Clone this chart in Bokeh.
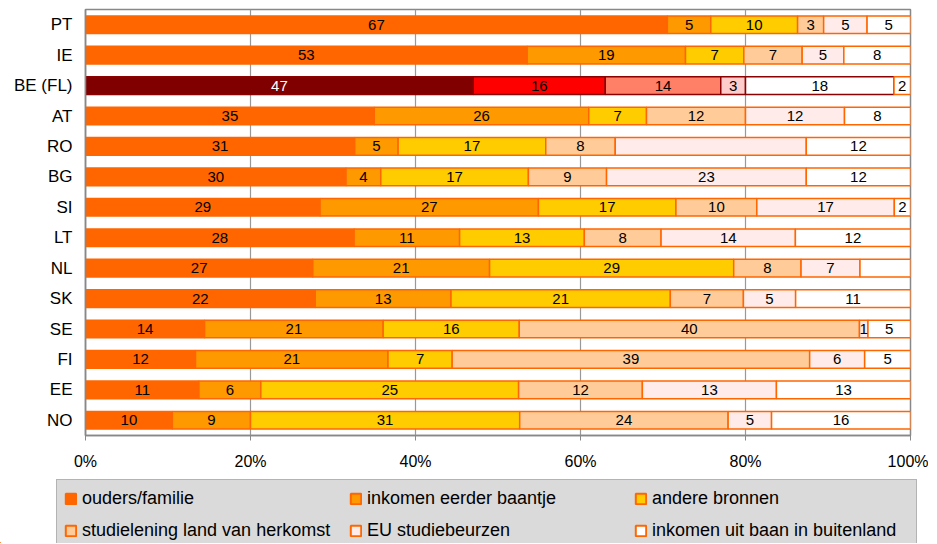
from bokeh.plotting import figure
from bokeh.models import (ColumnDataSource, FixedTicker, PrintfTickFormatter, Legend,
                          LegendItem, Range1d, FactorRange)
from bokeh.layouts import column
from bokeh.embed import file_html
from bokeh.resources import INLINE
from bokeh.core.properties import value

# ---------------- data ----------------
countries = ["PT", "IE", "BE (FL)", "AT", "RO", "BG", "SI", "LT", "NL", "SK", "SE", "FI", "EE", "NO"]
ouders  = [67, 53, 47, 35, 31, 30, 29, 28, 27, 22, 14, 12, 11, 10]
baantje = [5, 19, 16, 26, 5, 4, 27, 11, 21, 13, 21, 21, 6, 9]
andere  = [10, 7, 14, 7, 17, 17, 17, 13, 29, 21, 16, 7, 25, 31]
lening  = [3, 7, 3, 12, 8, 9, 10, 8, 8, 7, 40, 39, 12, 24]
eu      = [5, 5, 18, 12, 22, 23, 17, 14, 7, 5, 1, 6, 13, 5]
buiten  = [5, 8, 2, 8, 12, 12, 2, 12, 6, 11, 5, 5, 13, 16]
series_names = ["ouders/familie", "inkomen eerder baantje", "andere bronnen",
                "studielening land van herkomst", "EU studiebeurzen",
                "inkomen uit baan in buitenland"]
series = [ouders, baantje, andere, lening, eu, buiten]
# segments drawn without a value label in the original
unlabeled = [("RO", 4), ("NL", 5)]
x_ticks = [0, 20, 40, 60, 80, 100]

# ---------------- styles ----------------
colors = ["#ff6600", "#ff9900", "#ffcc00", "#ffcc99", "#ffecea", "#ffffff"]
be_colors = ["#800000", "#ff0000", "#ff8066", "#ffcccc", "#ffffff", "#ffffff"]
be_lines = ["#8b0000", "#8b0000", "#8b0000", "#8b0000", "#8b0000", "#ff6600"]
FONT = "Liberation Sans"

totals = [sum(s[i] for s in series) for i in range(len(countries))]

p = figure(width=928, height=475, x_range=Range1d(0, 100),
           y_range=FactorRange(factors=countries[::-1]),
           output_backend="svg", toolbar_location=None,
           min_border_left=85, min_border_right=18, min_border_top=9, min_border_bottom=40)

lab_x, lab_y, lab_t, lab_c = [], [], [], []
for k, s in enumerate(series):
    left, right, fills, lines = [], [], [], []
    for i, c in enumerate(countries):
        cum = sum(series[j][i] for j in range(k))
        l = cum / totals[i] * 100
        r = (cum + s[i]) / totals[i] * 100
        left.append(l)
        right.append(r)
        if c == "BE (FL)":
            fills.append(be_colors[k])
            lines.append(be_lines[k])
        else:
            fills.append(colors[k])
            lines.append("#ff6600")
        if (c, k) not in unlabeled:
            lab_x.append((l + r) / 2)
            lab_y.append(c)
            lab_t.append(str(s[i]))
            lab_c.append("#ffffff" if (c == "BE (FL)" and k == 0) else "#000000")
    src = ColumnDataSource(dict(y=countries, left=left, right=right, fill=fills, line=lines))
    p.hbar(y="y", left="left", right="right", height=0.58, fill_color="fill",
           line_color="line", line_width=1.5, source=src)

lsrc = ColumnDataSource(dict(x=lab_x, y=lab_y, t=lab_t, c=lab_c))
p.text(x="x", y="y", text="t", text_color="c", source=lsrc, text_align="center",
       text_baseline="middle", text_font=value(FONT), text_font_size="15px")

p.outline_line_color = "#888888"
p.outline_line_width = 1.5
p.ygrid.grid_line_color = None
p.xgrid.ticker = FixedTicker(ticks=x_ticks)
p.xgrid.grid_line_color = "#999999"
p.xgrid.grid_line_width = 1.2

p.xaxis.ticker = FixedTicker(ticks=x_ticks)
p.xaxis.formatter = PrintfTickFormatter(format="%d%%")
p.xaxis.axis_line_color = "#888888"
p.xaxis.axis_line_width = 1.5
p.xaxis.major_tick_line_color = "#888888"
p.xaxis.major_tick_out = 5
p.xaxis.major_tick_in = 0
p.xaxis.minor_tick_line_color = None
p.xaxis.major_label_standoff = 12
p.xaxis.major_label_text_font = FONT
p.xaxis.major_label_text_font_size = "16px"
p.xaxis.major_label_text_color = "#000000"

p.yaxis.axis_line_color = "#888888"
p.yaxis.axis_line_width = 1.5
p.yaxis.major_tick_line_color = None
p.yaxis.minor_tick_line_color = None
p.yaxis.major_tick_out = 0
p.yaxis.major_label_standoff = 13
p.yaxis.major_label_text_font = FONT
p.yaxis.major_label_text_font_size = "17px"
p.yaxis.major_label_text_color = "#000000"

# ---------------- legend figure ----------------
lf = figure(width=928, height=68, output_backend="svg", toolbar_location=None,
            x_range=Range1d(0, 1), y_range=Range1d(0, 1), min_border=0,
            x_axis_type=None, y_axis_type=None)
lf.outline_line_color = None
lf.xgrid.grid_line_color = None
lf.ygrid.grid_line_color = None
for fig in (p, lf):
    if "frame_align" in fig.properties():
        fig.frame_align = False
items = []
for k, name in enumerate(series_names):
    # off-range placeholder glyph used only for the legend swatch
    r = lf.hbar(y=[-10], left=[-10], right=[-9], height=0.5, fill_color=colors[k],
                line_color="#ff6600", line_width=2)
    items.append(LegendItem(label=name, renderers=[r]))
leg = Legend(items=items, ncols=3, orientation="horizontal", location=(56, -6),
             glyph_width=13, glyph_height=13, label_standoff=5, label_width=257,
             label_height=22, spacing=10, padding=7, margin=0,
             label_text_font=FONT, label_text_font_size="18px", label_text_color="#000000",
             background_fill_color="#dadada", background_fill_alpha=1.0,
             border_line_color="#8c8c8c", border_line_width=1)
lf.add_layout(leg, "center")

layout = column(p, lf, spacing=0)
open("out.html", "w").write(file_html(layout, INLINE))
